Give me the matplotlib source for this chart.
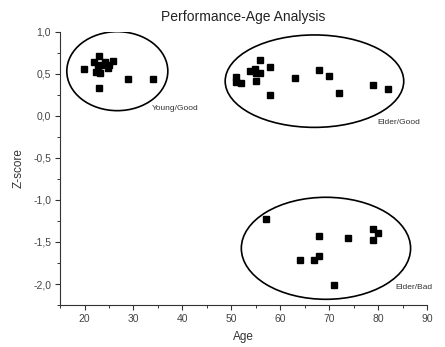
import matplotlib
matplotlib.use("Agg")
import matplotlib.pyplot as plt
from matplotlib.patches import Ellipse
from matplotlib.ticker import MultipleLocator, FuncFormatter

plt.rcParams['font.family'] = ['Liberation Sans', 'DejaVu Sans']

# young / good group
young_age = [19.8, 22.9, 22.0, 22.7, 22.4, 23.1, 24.1, 25.0, 25.8, 24.8, 23.4, 22.9, 28.9, 34.0]
young_z = [0.556, 0.714, 0.646, 0.587, 0.527, 0.508, 0.646, 0.607, 0.658, 0.568, 0.607, 0.337, 0.437, 0.44]

# elder / good group
eg_age = [51.0, 51.0, 51.9, 53.9, 54.9, 55.8, 55.9, 55.1, 55.0, 58.0, 58.0, 63.0, 68.0, 70.0, 72.0, 79.0, 82.0]
eg_z = [0.461, 0.408, 0.389, 0.539, 0.556, 0.508, 0.667, 0.515, 0.417, 0.58, 0.25, 0.456, 0.548, 0.473, 0.274, 0.373, 0.318]

# elder / bad group
eb_age = [57.0, 68.0, 73.8, 64.0, 67.0, 68.0, 71.0, 79.0, 80.0, 79.0]
eb_z = [-1.226, -1.425, -1.456, -1.718, -1.718, -1.667, -2.01, -1.345, -1.396, -1.476]

# group outlines: centre, width, height, label and label position
groups = ["Young/Good", "Elder/Good", "Elder/Bad"]
ell_center = [(26.7, 0.533), (67.0, 0.414), (69.35, -1.575)]
ell_size = [(20.65, 0.94), (36.5, 1.10), (34.6, 1.214)]
label_pos = [(33.7, 0.083), (79.9, -0.08), (83.6, -2.036)]

fig = plt.figure(figsize=(4.45, 3.47), dpi=100)
ax = fig.add_axes([0.135, 0.121, 0.8245, 0.787])

for a, z in [(young_age, young_z), (eg_age, eg_z), (eb_age, eb_z)]:
    ax.plot(a, z, 's', color='black', ms=3.8, mec='black')

for c, s in zip(ell_center, ell_size):
    ax.add_patch(Ellipse(c, s[0], s[1], fill=False, ec='black', lw=1.2))

for name, p in zip(groups, label_pos):
    ax.text(p[0], p[1], name, fontsize=6, color='#333333', va='center', ha='left')

ax.set_xlim(15, 90)
ax.set_ylim(-2.25, 1.0)
ax.spines['top'].set_visible(False)
ax.spines['right'].set_visible(False)
for sp in ['left', 'bottom']:
    ax.spines[sp].set_color('#333333')
    ax.spines[sp].set_linewidth(0.8)

ax.xaxis.set_major_locator(MultipleLocator(10))
ax.xaxis.set_minor_locator(MultipleLocator(5))
ax.yaxis.set_major_locator(MultipleLocator(0.5))
ax.yaxis.set_minor_locator(MultipleLocator(0.25))
ax.yaxis.set_major_formatter(FuncFormatter(lambda v, pos: ('%.1f' % v).replace('.', ',')))
ax.tick_params(which='major', length=3.5, width=0.8, color='#333333', labelsize=7.5, labelcolor='#444444', pad=3)
ax.tick_params(which='minor', length=2, width=0.7, color='#333333')

ax.set_xlabel('Age', fontsize=8.5, color='#333333', labelpad=5)
ax.set_ylabel('Z-score', fontsize=8.5, color='#333333', labelpad=6)
ax.set_title('Performance-Age Analysis', fontsize=10, color='#222222', pad=8)

fig.savefig('out.png', dpi=100)
